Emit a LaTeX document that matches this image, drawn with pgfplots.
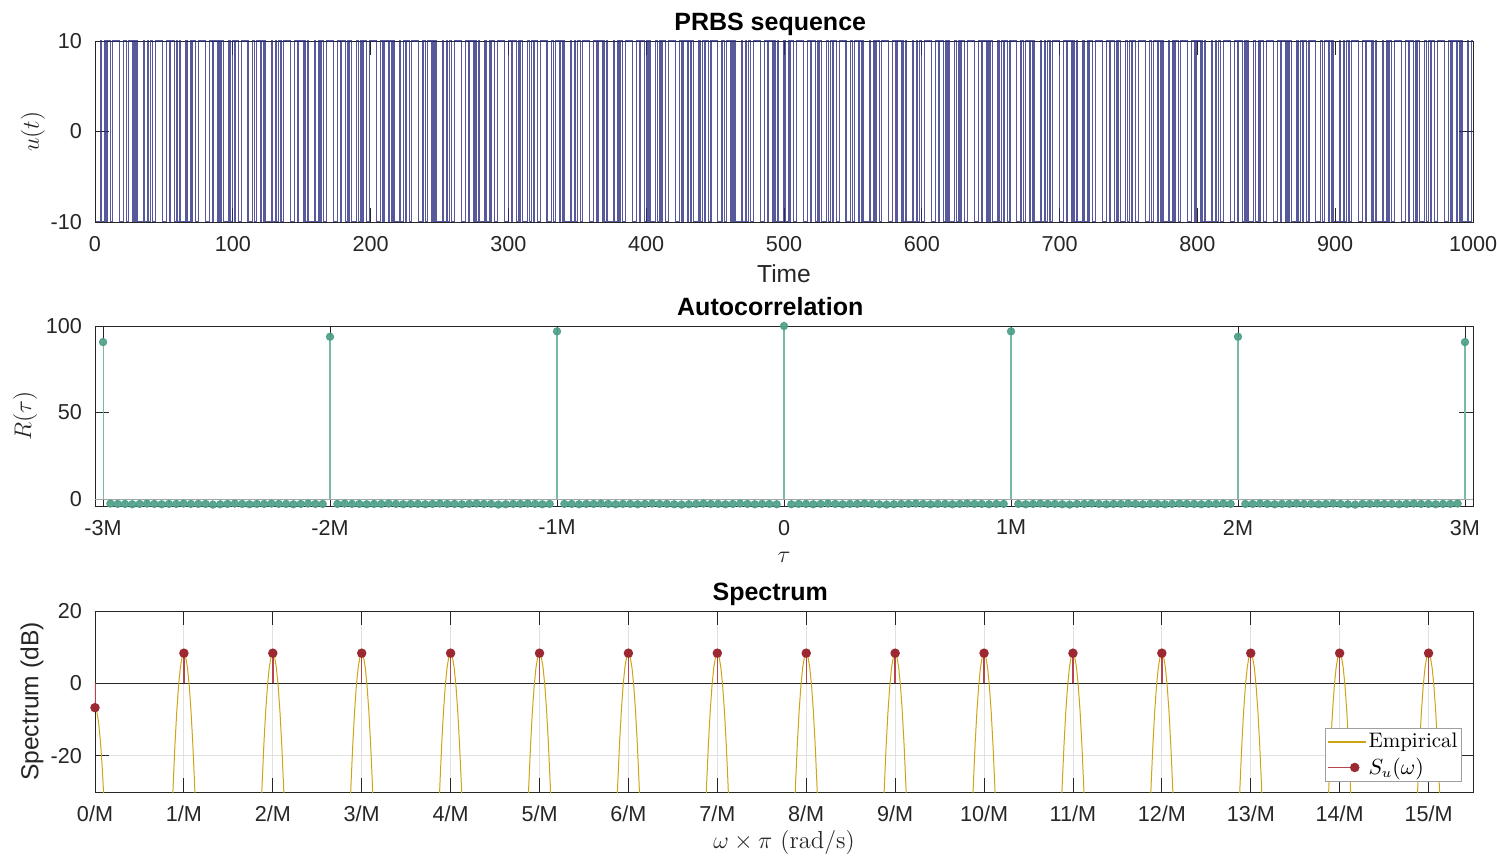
\documentclass[border=0pt]{standalone}
\usepackage{pgfplots}
\pgfplotsset{compat=1.18}
\usepackage{fontspec}
\setsansfont{Liberation Sans}
\definecolor{axcol}{RGB}{38,38,38}
\definecolor{prbs}{RGB}{40,42,125}
\definecolor{tealm}{RGB}{76,158,136}
\definecolor{tealst}{RGB}{120,186,168}
\definecolor{redm}{RGB}{155,40,50}
\definecolor{redst}{RGB}{180,70,80}
\definecolor{goldc}{RGB}{205,165,20}
\definecolor{gridc}{RGB}{225,225,225}
\begin{document}
\begin{tikzpicture}
\useasboundingbox (0,0) rectangle (748.5pt,428pt);
\pgfplotsset{
  myax/.style={
    scale only axis, width=689pt, anchor=south west,
    enlargelimits=false,
    axis line style={draw=axcol, line width=0.45pt},
    every tick/.style={draw=axcol, line width=0.45pt},
    major tick length=7pt, tick align=inside,
    xtick pos=both, ytick pos=both,
    tick label style={font=\sffamily\fontsize{10.8}{12}\selectfont, text=axcol},
    xticklabel style={yshift=-3.5pt},
    yticklabel style={xshift=-3pt},
    title style={at={(0.49,1)}, anchor=base, yshift=-1pt,
      font=\sffamily\bfseries\fontsize{12.5}{14}\selectfont, text=black},
    xlabel style={at={(axis description cs:0.5,0)}, anchor=base, text=axcol},
    ylabel style={anchor=center, text=axcol},
  }
}
% ---------------- PRBS sequence
\begin{axis}[myax, at={(47.5pt,317pt)}, height=90.5pt,
  xmin=0, xmax=1000, ymin=-10, ymax=10,
  xtick={0,100,...,1000}, xticklabels={0,100,200,300,400,500,600,700,800,900,1000},
  ytick={-10,0,10}, yticklabels={-10,0,10},
  title={PRBS sequence},
  xlabel={\sffamily\fontsize{12.3}{14}\selectfont Time},
  xlabel style={yshift=-30.5pt},
  ylabel={\fontsize{12.3}{14}\selectfont $u(t)$},
  ylabel style={at={(axis description cs:-0.045,0.5)}},
]
\addplot[const plot, draw=prbs, draw opacity=0.78, line width=0.55pt]
 table[row sep=\\, x expr=\coordindex, y=u]{
u\\
-10\\-10\\-10\\-10\\10\\-10\\-10\\10\\-10\\10\\10\\-10\\-10\\10\\10\\10\\10\\10\\-10\\-10\\-10\\10\\10\\-10\\10\\10\\10\\-10\\10\\-10\\10\\
-10\\-10\\-10\\-10\\10\\-10\\-10\\10\\-10\\10\\10\\-10\\-10\\10\\10\\10\\10\\10\\-10\\-10\\-10\\10\\10\\-10\\10\\10\\10\\-10\\10\\-10\\10\\
-10\\-10\\-10\\-10\\10\\-10\\-10\\10\\-10\\10\\10\\-10\\-10\\10\\10\\10\\10\\10\\-10\\-10\\-10\\10\\10\\-10\\10\\10\\10\\-10\\10\\-10\\10\\
-10\\-10\\-10\\-10\\10\\-10\\-10\\10\\-10\\10\\10\\-10\\-10\\10\\10\\10\\10\\10\\-10\\-10\\-10\\10\\10\\-10\\10\\10\\10\\-10\\10\\-10\\10\\
-10\\-10\\-10\\-10\\10\\-10\\-10\\10\\-10\\10\\10\\-10\\-10\\10\\10\\10\\10\\10\\-10\\-10\\-10\\10\\10\\-10\\10\\10\\10\\-10\\10\\-10\\10\\
-10\\-10\\-10\\-10\\10\\-10\\-10\\10\\-10\\10\\10\\-10\\-10\\10\\10\\10\\10\\10\\-10\\-10\\-10\\10\\10\\-10\\10\\10\\10\\-10\\10\\-10\\10\\
-10\\-10\\-10\\-10\\10\\-10\\-10\\10\\-10\\10\\10\\-10\\-10\\10\\10\\10\\10\\10\\-10\\-10\\-10\\10\\10\\-10\\10\\10\\10\\-10\\10\\-10\\10\\
-10\\-10\\-10\\-10\\10\\-10\\-10\\10\\-10\\10\\10\\-10\\-10\\10\\10\\10\\10\\10\\-10\\-10\\-10\\10\\10\\-10\\10\\10\\10\\-10\\10\\-10\\10\\
-10\\-10\\-10\\-10\\10\\-10\\-10\\10\\-10\\10\\10\\-10\\-10\\10\\10\\10\\10\\10\\-10\\-10\\-10\\10\\10\\-10\\10\\10\\10\\-10\\10\\-10\\10\\
-10\\-10\\-10\\-10\\10\\-10\\-10\\10\\-10\\10\\10\\-10\\-10\\10\\10\\10\\10\\10\\-10\\-10\\-10\\10\\10\\-10\\10\\10\\10\\-10\\10\\-10\\10\\
-10\\-10\\-10\\-10\\10\\-10\\-10\\10\\-10\\10\\10\\-10\\-10\\10\\10\\10\\10\\10\\-10\\-10\\-10\\10\\10\\-10\\10\\10\\10\\-10\\10\\-10\\10\\
-10\\-10\\-10\\-10\\10\\-10\\-10\\10\\-10\\10\\10\\-10\\-10\\10\\10\\10\\10\\10\\-10\\-10\\-10\\10\\10\\-10\\10\\10\\10\\-10\\10\\-10\\10\\
-10\\-10\\-10\\-10\\10\\-10\\-10\\10\\-10\\10\\10\\-10\\-10\\10\\10\\10\\10\\10\\-10\\-10\\-10\\10\\10\\-10\\10\\10\\10\\-10\\10\\-10\\10\\
-10\\-10\\-10\\-10\\10\\-10\\-10\\10\\-10\\10\\10\\-10\\-10\\10\\10\\10\\10\\10\\-10\\-10\\-10\\10\\10\\-10\\10\\10\\10\\-10\\10\\-10\\10\\
-10\\-10\\-10\\-10\\10\\-10\\-10\\10\\-10\\10\\10\\-10\\-10\\10\\10\\10\\10\\10\\-10\\-10\\-10\\10\\10\\-10\\10\\10\\10\\-10\\10\\-10\\10\\
-10\\-10\\-10\\-10\\10\\-10\\-10\\10\\-10\\10\\10\\-10\\-10\\10\\10\\10\\10\\10\\-10\\-10\\-10\\10\\10\\-10\\10\\10\\10\\-10\\10\\-10\\10\\
-10\\-10\\-10\\-10\\10\\-10\\-10\\10\\-10\\10\\10\\-10\\-10\\10\\10\\10\\10\\10\\-10\\-10\\-10\\10\\10\\-10\\10\\10\\10\\-10\\10\\-10\\10\\
-10\\-10\\-10\\-10\\10\\-10\\-10\\10\\-10\\10\\10\\-10\\-10\\10\\10\\10\\10\\10\\-10\\-10\\-10\\10\\10\\-10\\10\\10\\10\\-10\\10\\-10\\10\\
-10\\-10\\-10\\-10\\10\\-10\\-10\\10\\-10\\10\\10\\-10\\-10\\10\\10\\10\\10\\10\\-10\\-10\\-10\\10\\10\\-10\\10\\10\\10\\-10\\10\\-10\\10\\
-10\\-10\\-10\\-10\\10\\-10\\-10\\10\\-10\\10\\10\\-10\\-10\\10\\10\\10\\10\\10\\-10\\-10\\-10\\10\\10\\-10\\10\\10\\10\\-10\\10\\-10\\10\\
-10\\-10\\-10\\-10\\10\\-10\\-10\\10\\-10\\10\\10\\-10\\-10\\10\\10\\10\\10\\10\\-10\\-10\\-10\\10\\10\\-10\\10\\10\\10\\-10\\10\\-10\\10\\
-10\\-10\\-10\\-10\\10\\-10\\-10\\10\\-10\\10\\10\\-10\\-10\\10\\10\\10\\10\\10\\-10\\-10\\-10\\10\\10\\-10\\10\\10\\10\\-10\\10\\-10\\10\\
-10\\-10\\-10\\-10\\10\\-10\\-10\\10\\-10\\10\\10\\-10\\-10\\10\\10\\10\\10\\10\\-10\\-10\\-10\\10\\10\\-10\\10\\10\\10\\-10\\10\\-10\\10\\
-10\\-10\\-10\\-10\\10\\-10\\-10\\10\\-10\\10\\10\\-10\\-10\\10\\10\\10\\10\\10\\-10\\-10\\-10\\10\\10\\-10\\10\\10\\10\\-10\\10\\-10\\10\\
-10\\-10\\-10\\-10\\10\\-10\\-10\\10\\-10\\10\\10\\-10\\-10\\10\\10\\10\\10\\10\\-10\\-10\\-10\\10\\10\\-10\\10\\10\\10\\-10\\10\\-10\\10\\
-10\\-10\\-10\\-10\\10\\-10\\-10\\10\\-10\\10\\10\\-10\\-10\\10\\10\\10\\10\\10\\-10\\-10\\-10\\10\\10\\-10\\10\\10\\10\\-10\\10\\-10\\10\\
-10\\-10\\-10\\-10\\10\\-10\\-10\\10\\-10\\10\\10\\-10\\-10\\10\\10\\10\\10\\10\\-10\\-10\\-10\\10\\10\\-10\\10\\10\\10\\-10\\10\\-10\\10\\
-10\\-10\\-10\\-10\\10\\-10\\-10\\10\\-10\\10\\10\\-10\\-10\\10\\10\\10\\10\\10\\-10\\-10\\-10\\10\\10\\-10\\10\\10\\10\\-10\\10\\-10\\10\\
-10\\-10\\-10\\-10\\10\\-10\\-10\\10\\-10\\10\\10\\-10\\-10\\10\\10\\10\\10\\10\\-10\\-10\\-10\\10\\10\\-10\\10\\10\\10\\-10\\10\\-10\\10\\
-10\\-10\\-10\\-10\\10\\-10\\-10\\10\\-10\\10\\10\\-10\\-10\\10\\10\\10\\10\\10\\-10\\-10\\-10\\10\\10\\-10\\10\\10\\10\\-10\\10\\-10\\10\\
-10\\-10\\-10\\-10\\10\\-10\\-10\\10\\-10\\10\\10\\-10\\-10\\10\\10\\10\\10\\10\\-10\\-10\\-10\\10\\10\\-10\\10\\10\\10\\-10\\10\\-10\\10\\
-10\\-10\\-10\\-10\\10\\-10\\-10\\10\\-10\\10\\10\\-10\\-10\\10\\10\\10\\10\\10\\-10\\-10\\-10\\10\\10\\-10\\10\\10\\10\\-10\\10\\-10\\10\\
-10\\-10\\-10\\-10\\10\\-10\\-10\\10\\10\\
};
\end{axis}
% ---------------- Autocorrelation
\begin{axis}[myax, at={(47.5pt,175pt)}, height=90pt,
  xmin=-94.1, xmax=94.1, ymin=-4, ymax=100, clip=false,
  xtick={-93,-62,-31,0,31,62,93}, xticklabels={-3M,-2M,-1M,0,1M,2M,3M},
  ytick={0,50,100}, yticklabels={0,50,100},
  title={Autocorrelation},
  xlabel={\fontsize{12.3}{14}\selectfont $\tau$},
  xlabel style={yshift=-28.5pt},
  ylabel={\fontsize{12.3}{14}\selectfont $R(\tau)$},
  ylabel style={at={(axis description cs:-0.0508,0.5)}},
]
\addplot[draw=gray!70, line width=0.45pt, forget plot] coordinates {(-94.1,0) (94.1,0)};
\addplot[ycomb, draw=tealst, line width=0.55pt, mark=*, mark size=1.8pt,
  mark options={draw=tealm, fill=tealm, fill opacity=0.9, draw opacity=0.9}] coordinates {
(-93,90.7)
(-92,-2.6)(-91,-2.8)(-90,-2.8)(-89,-3.0)(-88,-2.8)(-87,-2.6)(-86,-2.8)(-85,-3.0)(-84,-2.8)(-83,-2.8)
(-82,-2.6)(-81,-2.8)(-80,-2.8)(-79,-2.8)(-78,-3.2)(-77,-3.0)(-76,-2.8)(-75,-2.6)(-74,-2.8)(-73,-3.0)
(-72,-2.8)(-71,-2.8)(-70,-2.6)(-69,-2.8)(-68,-2.8)(-67,-3.0)(-66,-2.8)(-65,-2.6)(-64,-2.8)(-63,-2.8)
(-62,93.8)
(-61,-2.8)(-60,-2.6)(-59,-2.8)(-58,-2.8)(-57,-3.0)(-56,-2.8)(-55,-2.8)(-54,-2.6)(-53,-2.8)(-52,-3.0)
(-51,-2.8)(-50,-2.8)(-49,-3.0)(-48,-2.8)(-47,-2.6)(-46,-2.8)(-45,-2.8)(-44,-3.0)(-43,-2.8)(-42,-2.6)
(-41,-2.8)(-40,-2.8)(-39,-3.2)(-38,-3.0)(-37,-2.8)(-36,-2.8)(-35,-2.6)(-34,-2.8)(-33,-3.0)(-32,-2.8)
(-31,96.9)
(-30,-2.8)(-29,-2.8)(-28,-3.0)(-27,-2.8)(-26,-2.8)(-25,-2.6)(-24,-2.8)(-23,-3.0)(-22,-2.8)(-21,-2.8)
(-20,-3.0)(-19,-2.8)(-18,-2.6)(-17,-2.8)(-16,-2.8)(-15,-3.0)(-14,-3.2)(-13,-3.0)(-12,-2.8)(-11,-2.6)
(-10,-2.8)(-9,-2.8)(-8,-3.0)(-7,-2.8)(-6,-2.6)(-5,-2.8)(-4,-3.0)(-3,-2.8)(-2,-2.8)(-1,-3.0)
(0,100)
(1,-3.0)(2,-2.8)(3,-2.8)(4,-3.0)(5,-2.8)(6,-2.6)(7,-2.8)(8,-3.0)(9,-2.8)(10,-2.8)
(11,-2.6)(12,-2.8)(13,-3.0)(14,-3.2)(15,-3.0)(16,-2.8)(17,-2.8)(18,-2.6)(19,-2.8)(20,-3.0)
(21,-2.8)(22,-2.8)(23,-3.0)(24,-2.8)(25,-2.6)(26,-2.8)(27,-2.8)(28,-3.0)(29,-2.8)(30,-2.8)
(31,96.9)
(32,-2.8)(33,-3.0)(34,-2.8)(35,-2.6)(36,-2.8)(37,-2.8)(38,-3.0)(39,-3.2)(40,-2.8)(41,-2.8)
(42,-2.6)(43,-2.8)(44,-3.0)(45,-2.8)(46,-2.8)(47,-2.6)(48,-2.8)(49,-3.0)(50,-2.8)(51,-2.8)
(52,-3.0)(53,-2.8)(54,-2.6)(55,-2.8)(56,-2.8)(57,-3.0)(58,-2.8)(59,-2.8)(60,-2.6)(61,-2.8)
(62,93.8)
(63,-2.8)(64,-2.8)(65,-2.6)(66,-2.8)(67,-3.0)(68,-2.8)(69,-2.8)(70,-2.6)(71,-2.8)(72,-2.8)
(73,-3.0)(74,-2.8)(75,-2.6)(76,-2.8)(77,-3.0)(78,-3.2)(79,-2.8)(80,-2.8)(81,-2.6)(82,-2.8)
(83,-2.8)(84,-3.0)(85,-2.8)(86,-2.6)(87,-2.8)(88,-2.8)(89,-3.0)(90,-2.8)(91,-2.8)(92,-2.6)
(93,90.7)
};
\end{axis}
% ---------------- Spectrum
\begin{axis}[myax, at={(47.5pt,32pt)}, height=90.5pt,
  xmin=0, xmax=15.5, ymin=-30, ymax=20,
  xtick={0,1,...,15},
  xticklabels={0/M,1/M,2/M,3/M,4/M,5/M,6/M,7/M,8/M,9/M,10/M,11/M,12/M,13/M,14/M,15/M},
  ytick={-20,0,20}, yticklabels={-20,0,20},
  grid=major, major grid style={draw=gridc, line width=0.45pt},
  title={Spectrum},
  xlabel={\fontsize{12.3}{14}\selectfont $\omega\times\pi\ (\mathrm{rad/s})$},
  xlabel style={yshift=-28pt},
  ylabel={\sffamily\fontsize{12.3}{14}\selectfont Spectrum (dB)},
  ylabel style={at={(axis description cs:-0.0457,0.5)}},
  legend style={at={(0.992,0.055)}, anchor=south east, draw=gray!75, fill=white,
    line width=0.45pt, font=\rmfamily\fontsize{10.5}{12.5}\selectfont,
    inner xsep=1pt, inner ysep=1.2pt, row sep=1.5pt, nodes={inner sep=1pt}},
  legend cell align=left,
]
\addplot[draw=axcol, line width=0.5pt, forget plot] coordinates {(0,0) (15.5,0)};
\addplot[draw=goldc, line width=0.5pt,
  legend image code/.code={\draw[draw=goldc, line width=0.75pt] (0pt,0pt) -- (19pt,0pt);}]
 coordinates {
(0,-6.7)(0.02,-7.7)(0.04,-10.7)(0.06,-15.7)(0.08,-22.7)(0.1,-31.7)(0.12,-40)
(0.865,-37.2)(0.88,-27.65)(0.9,-16.65)(0.92,-7.65)(0.94,-0.65)(0.96,4.35)(0.98,7.35)(1,8.35)(1.02,7.35)(1.04,4.35)(1.06,-0.65)(1.08,-7.65)(1.1,-16.65)(1.12,-27.65)(1.135,-37.2)
(1.865,-37.2)(1.88,-27.65)(1.9,-16.65)(1.92,-7.65)(1.94,-0.65)(1.96,4.35)(1.98,7.35)(2,8.35)(2.02,7.35)(2.04,4.35)(2.06,-0.65)(2.08,-7.65)(2.1,-16.65)(2.12,-27.65)(2.135,-37.2)
(2.865,-37.2)(2.88,-27.65)(2.9,-16.65)(2.92,-7.65)(2.94,-0.65)(2.96,4.35)(2.98,7.35)(3,8.35)(3.02,7.35)(3.04,4.35)(3.06,-0.65)(3.08,-7.65)(3.1,-16.65)(3.12,-27.65)(3.135,-37.2)
(3.865,-37.2)(3.88,-27.65)(3.9,-16.65)(3.92,-7.65)(3.94,-0.65)(3.96,4.35)(3.98,7.35)(4,8.35)(4.02,7.35)(4.04,4.35)(4.06,-0.65)(4.08,-7.65)(4.1,-16.65)(4.12,-27.65)(4.135,-37.2)
(4.865,-37.2)(4.88,-27.65)(4.9,-16.65)(4.92,-7.65)(4.94,-0.65)(4.96,4.35)(4.98,7.35)(5,8.35)(5.02,7.35)(5.04,4.35)(5.06,-0.65)(5.08,-7.65)(5.1,-16.65)(5.12,-27.65)(5.135,-37.2)
(5.865,-37.2)(5.88,-27.65)(5.9,-16.65)(5.92,-7.65)(5.94,-0.65)(5.96,4.35)(5.98,7.35)(6,8.35)(6.02,7.35)(6.04,4.35)(6.06,-0.65)(6.08,-7.65)(6.1,-16.65)(6.12,-27.65)(6.135,-37.2)
(6.865,-37.2)(6.88,-27.65)(6.9,-16.65)(6.92,-7.65)(6.94,-0.65)(6.96,4.35)(6.98,7.35)(7,8.35)(7.02,7.35)(7.04,4.35)(7.06,-0.65)(7.08,-7.65)(7.1,-16.65)(7.12,-27.65)(7.135,-37.2)
(7.865,-37.2)(7.88,-27.65)(7.9,-16.65)(7.92,-7.65)(7.94,-0.65)(7.96,4.35)(7.98,7.35)(8,8.35)(8.02,7.35)(8.04,4.35)(8.06,-0.65)(8.08,-7.65)(8.1,-16.65)(8.12,-27.65)(8.135,-37.2)
(8.865,-37.2)(8.88,-27.65)(8.9,-16.65)(8.92,-7.65)(8.94,-0.65)(8.96,4.35)(8.98,7.35)(9,8.35)(9.02,7.35)(9.04,4.35)(9.06,-0.65)(9.08,-7.65)(9.1,-16.65)(9.12,-27.65)(9.135,-37.2)
(9.865,-37.2)(9.88,-27.65)(9.9,-16.65)(9.92,-7.65)(9.94,-0.65)(9.96,4.35)(9.98,7.35)(10,8.35)(10.02,7.35)(10.04,4.35)(10.06,-0.65)(10.08,-7.65)(10.1,-16.65)(10.12,-27.65)(10.135,-37.2)
(10.865,-37.2)(10.88,-27.65)(10.9,-16.65)(10.92,-7.65)(10.94,-0.65)(10.96,4.35)(10.98,7.35)(11,8.35)(11.02,7.35)(11.04,4.35)(11.06,-0.65)(11.08,-7.65)(11.1,-16.65)(11.12,-27.65)(11.135,-37.2)
(11.865,-37.2)(11.88,-27.65)(11.9,-16.65)(11.92,-7.65)(11.94,-0.65)(11.96,4.35)(11.98,7.35)(12,8.35)(12.02,7.35)(12.04,4.35)(12.06,-0.65)(12.08,-7.65)(12.1,-16.65)(12.12,-27.65)(12.135,-37.2)
(12.865,-37.2)(12.88,-27.65)(12.9,-16.65)(12.92,-7.65)(12.94,-0.65)(12.96,4.35)(12.98,7.35)(13,8.35)(13.02,7.35)(13.04,4.35)(13.06,-0.65)(13.08,-7.65)(13.1,-16.65)(13.12,-27.65)(13.135,-37.2)
(13.865,-37.2)(13.88,-27.65)(13.9,-16.65)(13.92,-7.65)(13.94,-0.65)(13.96,4.35)(13.98,7.35)(14,8.35)(14.02,7.35)(14.04,4.35)(14.06,-0.65)(14.08,-7.65)(14.1,-16.65)(14.12,-27.65)(14.135,-37.2)
(14.865,-37.2)(14.88,-27.65)(14.9,-16.65)(14.92,-7.65)(14.94,-0.65)(14.96,4.35)(14.98,7.35)(15,8.35)(15.02,7.35)(15.04,4.35)(15.06,-0.65)(15.08,-7.65)(15.1,-16.65)(15.12,-27.65)(15.135,-37.2)
};
\addlegendentry{Empirical}
\addplot[ycomb, draw=redst, line width=0.7pt, mark=*, mark size=2pt,
  mark options={draw=redm, fill=redm},
  legend image code/.code={\draw[redst, line width=0.6pt] (0pt,0pt) -- (13pt,0pt);
    \fill[redm] (13.5pt,0pt) circle (2pt);}]
 coordinates {(0,-6.7)(1,8.35)(2,8.35)(3,8.35)(4,8.35)(5,8.35)(6,8.35)(7,8.35)(8,8.35)(9,8.35)(10,8.35)(11,8.35)(12,8.35)(13,8.35)(14,8.35)(15,8.35)};
\addlegendentry{$S_u(\omega)$}
\end{axis}
\end{tikzpicture}
\end{document}
